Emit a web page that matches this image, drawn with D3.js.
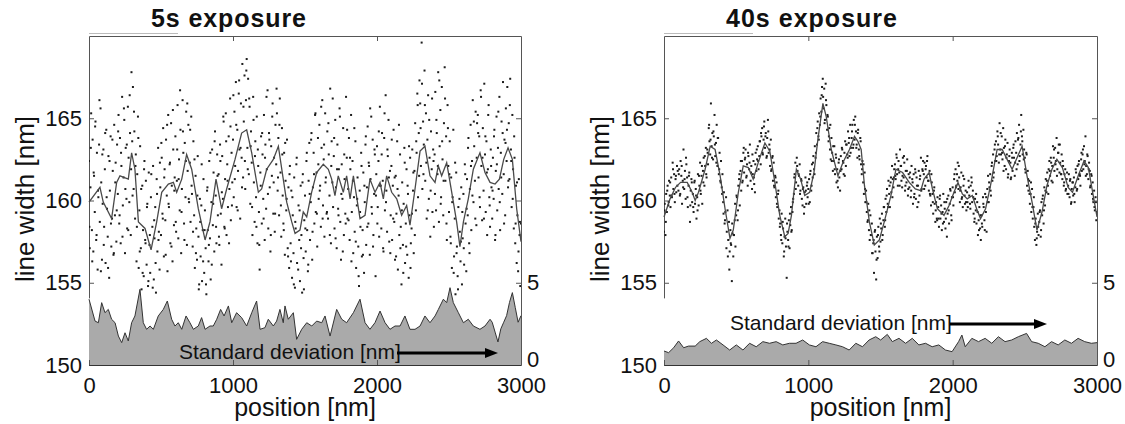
<!DOCTYPE html>
<html>
<head>
<meta charset="utf-8">
<script src="https://cdn.jsdelivr.net/npm/d3@7"></script>
<style>
body { margin: 0; background: #fff; }
text { font-family: "Liberation Sans", Arial, sans-serif; }
</style>
</head>
<body>
<svg id="chart" width="1125" height="424"></svg>
<script>
const W = 1125, H = 424;

const yTicks = [150, 155, 160, 165];
const xTicks = [0, 1000, 2000, 3000];
const stdTicks = [0, 5];
const dotStep = 5;     // nm between samples of the first pass
const dotStep2 = 10;   // second pass, offset by half a step
const dotOffset2 = 2.5;

// ---- 5s exposure ----
const leftDots = [
162.4,157.1,160.8,165.3,158.2,163.7,156.9,161.5,159.3,164.8,157.6,162.9,155.8,160.2,163.4,158.7,165.6,161.1,156.4,159.8,
163.1,158.4,161.9,156.2,164.3,159.5,157.8,162.7,155.3,160.6,163.9,157.2,158.9,161.8,156.7,164.6,159.1,162.3,157.5,163.4,
160.4,165.2,158.6,163.8,157.4,162.1,166.3,159.7,161.4,164.9,156.8,163.2,160.1,158.3,165.7,162.6,159.9,164.1,157.9,167.8,
163.6,166.9,160.7,164.2,158.9,162.8,156.3,161.6,165.1,155.9,159.4,163.3,157.1,154.6,160.9,158.2,155.4,162.4,157.6,161.2,
156.1,159.8,154.8,161.7,157.3,155.6,160.2,153.9,158.4,162.1,155.2,157.7,159.6,154.4,161.3,156.9,163.2,158.1,155.8,160.8,
157.9,162.6,159.2,164.4,156.6,161.9,158.8,163.7,160.3,155.7,165.2,159.6,162.2,157.4,164.7,160.9,156.3,163.1,158.5,161.4,
163.9,158.1,161.2,165.8,157.7,162.5,159.4,164.3,156.8,160.7,166.1,162.9,158.6,163.5,160.2,165.4,157.3,161.8,164.6,159.9,
162.3,158.7,165.1,160.4,157.2,163.6,159.1,155.9,161.5,158.3,156.4,162.7,157.8,154.9,160.1,156.6,159.7,155.1,158.2,161.3,
155.6,159.4,157.1,154.3,160.6,158.2,156.3,162.4,157.7,155.2,159.9,163.1,158.5,161.7,156.9,164.2,160.3,157.4,162.8,159.1,
161.6,157.3,163.4,159.2,156.1,162.7,160.1,164.8,158.4,161.3,165.3,157.9,162.2,159.6,163.9,160.7,166.2,158.8,162.9,161.1,
163.7,160.2,165.4,162.1,167.2,159.6,164.3,161.8,166.5,163.1,158.9,165.9,162.6,168.3,161.4,164.8,167.6,160.7,166.1,168.6,
163.2,167.4,161.6,165.7,159.8,164.2,162.3,157.9,166.3,161.1,158.7,163.6,160.2,165.1,157.4,162.1,159.3,155.8,161.7,163.9,
158.6,162.8,160.1,165.2,157.6,163.4,159.5,161.9,166.7,158.3,164.1,160.8,156.9,163.3,161.5,165.9,159.2,162.6,158.1,164.6,
162.2,165.3,160.6,163.8,159.1,166.2,161.7,157.8,164.4,160.3,158.6,162.9,156.7,161.2,159.4,163.7,157.1,160.8,155.9,162.1,
157.4,160.6,155.3,159.1,156.8,161.4,154.7,158.3,162.2,156.2,153.9,159.7,157.6,155.1,160.9,157.9,154.4,161.6,156.5,158.8,
160.3,156.9,162.4,158.2,155.7,161.2,163.5,157.6,159.9,164.1,156.4,160.8,162.9,158.6,165.2,159.3,161.7,157.2,163.8,160.1,
164.6,160.9,158.4,163.2,166.1,159.7,162.5,157.8,165.3,161.4,159.2,164.2,158.9,162.8,160.3,166.8,157.4,163.6,161.1,159.6,
162.7,158.3,164.9,160.8,157.1,163.4,159.5,161.9,165.6,158.7,156.4,162.2,160.1,164.4,157.9,161.3,159.2,166.3,162.6,158.9,
160.7,163.8,157.6,161.9,165.2,159.3,162.4,156.8,160.2,158.1,163.6,155.9,159.7,161.4,157.2,154.8,160.6,158.4,162.9,156.6,
158.2,161.7,155.6,159.9,163.4,157.3,160.8,164.5,158.6,162.1,156.7,161.3,165.1,159.2,163.7,157.9,160.4,162.8,155.4,161.6,
163.3,159.6,162.4,157.8,165.7,160.9,158.3,164.1,161.2,156.9,163.8,159.4,166.4,160.6,158.1,162.7,164.9,157.5,161.8,159.1,
162.1,157.6,160.9,164.3,158.7,156.4,161.5,159.2,163.6,155.8,160.3,157.9,162.8,158.4,154.9,161.1,157.3,159.8,163.2,156.2,
158.6,161.9,156.7,160.4,155.3,159.1,162.6,157.4,158.3,163.1,160.6,156.8,161.8,164.7,159.4,162.9,166.5,160.2,164.1,167.3,
165.9,162.1,169.6,160.7,164.8,163.4,167.9,161.2,165.3,158.9,163.7,166.4,160.1,162.6,157.8,164.2,161.9,159.3,163.1,158.4,
162.8,166.6,159.4,164.1,161.6,167.8,158.7,163.3,165.5,160.2,166.9,162.5,159.1,164.7,168.1,161.2,163.9,157.6,165.8,162.1,
159.3,163.6,157.8,161.4,155.9,160.2,164.3,156.6,158.9,154.3,161.7,157.2,155.4,159.6,153.8,158.1,156.3,160.8,154.9,157.7,
160.4,156.1,162.2,158.6,155.7,161.3,159.1,163.8,157.4,160.7,164.6,158.2,162.4,166.1,159.9,163.3,161.2,165.4,158.5,164.7,
165.2,161.4,163.9,159.6,166.7,162.1,158.8,164.4,160.6,167.1,162.8,159.3,163.6,157.9,161.9,165.8,160.2,158.4,163.1,160.8,
158.9,162.6,160.1,164.3,157.6,161.8,165.1,159.4,163.2,160.7,166.3,158.2,162.9,164.8,160.4,167.2,161.6,163.7,159.1,165.6,
162.4,166.9,160.8,164.7,161.3,167.4,163.1,159.6,165.2,161.9,158.3,162.6,157.4,160.9,156.2,159.1,155.7,161.3,157.9,154.8,
158.6
];
const leftDots2 = [
158.4,163.2,156.3,161.7,164.5,157.9,160.6,166.1,155.7,162.8,
157.3,164.1,160.2,155.9,162.4,158.6,163.7,156.8,161.1,159.4,
164.2,159.1,162.9,157.8,165.6,160.7,163.4,158.2,166.4,161.9,
160.3,165.4,162.1,158.4,163.8,156.9,160.7,155.6,161.9,157.4,
159.6,155.1,157.9,161.6,154.7,158.8,156.2,160.4,157.6,162.3,
163.5,158.9,161.4,156.7,164.6,159.8,162.3,157.2,165.5,160.6,
158.7,163.1,161.3,166.7,159.3,164.2,157.6,162.4,165.9,160.1,
164.3,160.9,158.1,162.5,156.8,160.3,154.6,158.7,162.2,156.3,
158.2,154.9,160.8,157.3,162.9,156.1,159.8,163.6,158.4,161.5,
157.8,162.4,160.5,165.1,158.3,163.6,161.2,157.4,164.5,159.7,
166.4,161.3,164.6,159.4,167.3,163.2,160.8,165.7,162.4,167.9,
161.9,166.2,163.3,159.6,164.9,162.7,158.4,163.1,157.3,160.9,
164.1,158.9,162.6,166.3,160.4,163.7,157.9,165.1,161.1,159.2,
166.8,161.4,164.6,159.7,162.8,158.2,163.5,160.1,156.6,161.6,
156.3,160.2,154.9,158.7,162.6,155.8,159.4,157.1,161.1,154.6,
158.3,162.9,156.1,160.4,163.7,158.1,161.6,165.3,159.2,162.2,
160.6,165.7,158.9,163.4,161.1,159.3,164.7,157.9,162.1,166.2,
163.8,157.7,161.9,159.1,165.1,160.4,156.9,162.8,158.6,164.3,
158.8,162.6,156.3,161.2,164.4,157.5,160.1,155.4,159.3,162.1,
156.7,160.9,163.9,158.4,162.3,165.6,159.6,157.2,163.1,160.3,
158.6,164.2,160.9,162.8,157.1,165.3,159.9,163.1,161.4,156.8,
163.7,158.9,161.4,156.6,160.7,164.6,157.1,159.4,155.6,162.3,
157.2,160.9,163.3,155.9,159.2,161.7,157.9,163.6,165.8,161.5,
164.4,167.1,161.6,165.8,162.3,159.4,164.9,160.6,166.2,162.4,
160.4,164.9,162.1,167.3,159.8,163.6,161.2,166.2,158.6,164.4,
161.6,157.4,159.9,155.6,162.3,156.8,154.6,160.1,157.5,159.3,
157.1,161.6,159.5,163.2,156.8,162.1,160.3,164.8,158.9,162.6,
164.1,160.2,166.3,162.6,158.9,163.9,161.7,165.2,159.7,162.1,
160.6,163.9,157.9,162.2,165.4,159.9,161.4,164.1,158.6,163.5,
164.3,161.2,165.8,162.4,160.1,163.9,158.6,161.1,156.9,158.7
];
const leftLineX = [0,76,99,157,192,215,273,296,319,343,389,431,470,505,551,586,609,644,678,713,759,806,840,882,921,956,1014,1060,1095,1130,1176,1199,1234,1280,1315,1349,1373,1408,1431,1465,1488,1512,1546,1581,1627,1662,1685,1708,1731,1766,1789,1813,1836,1882,1917,1951,1986,2021,2044,2067,2102,2137,2171,2206,2229,2264,2299,2333,2368,2403,2426,2449,2484,2519,2553,2576,2600,2634,2669,2715,2750,2785,2820,2850,2880,2910,2940,2970,3000];
const leftLineY = [159.9,160.8,159.9,158.9,161.1,161.5,161.3,162.9,161.9,158.7,158.3,157.0,158.7,160.5,161.0,161.1,160.5,161.3,162.8,161.9,159.5,157.6,158.7,161.3,159.5,160.7,162.5,164.1,164.3,162.9,160.5,160.7,161.9,162.5,163.3,161.3,159.9,158.7,158.0,158.2,159.3,159.0,160.5,161.7,162.2,161.9,161.3,160.3,161.5,160.5,161.5,160.1,161.5,158.9,159.1,161.3,160.5,161.1,160.1,161.5,160.5,160.1,159.1,159.7,158.5,160.7,163.0,163.3,161.5,161.1,162.1,161.5,162.3,160.5,158.7,157.2,158.7,160.1,161.9,162.9,161.7,161.1,161.0,161.3,162.5,163.2,162.5,159.5,157.5];
const leftStdX = [0,42,65,88,111,134,157,181,204,227,250,273,296,319,354,377,400,424,447,481,516,544,574,597,620,644,674,701,725,759,782,806,840,863,887,914,938,968,991,1025,1060,1095,1130,1164,1188,1222,1245,1280,1303,1326,1349,1361,1384,1419,1442,1477,1512,1547,1581,1616,1639,1674,1720,1755,1789,1836,1882,1917,1951,1986,2021,2056,2090,2125,2160,2194,2229,2264,2299,2333,2368,2403,2426,2461,2484,2507,2530,2565,2600,2634,2669,2715,2750,2785,2800,2820,2840,2860,2880,2900,2920,2940,2960,2980,3000];
const leftStdY = [4.0,2.67,2.57,3.79,3.18,3.38,2.78,2.57,1.76,1.36,1.96,1.46,2.57,2.98,4.6,2.57,2.17,2.37,2.17,2.98,3.38,3.89,2.78,2.37,2.57,2.17,2.98,2.57,2.17,2.37,2.88,2.17,2.37,2.37,2.78,3.38,2.98,3.59,2.57,3.18,2.88,2.37,3.18,3.89,2.17,2.27,2.78,2.37,2.67,3.38,2.57,3.59,2.78,3.18,1.56,2.17,2.57,2.37,2.67,2.57,2.98,1.76,3.38,2.78,2.57,3.18,4.0,2.57,2.17,2.57,3.28,2.57,2.17,2.37,2.37,2.98,2.17,2.17,2.37,2.98,2.57,2.98,3.38,4.0,3.79,4.7,3.79,3.18,2.57,2.78,2.37,2.17,2.37,2.78,2.6,2.0,1.4,2.2,2.6,3.0,3.8,4.4,3.5,2.6,3.0];

// ---- 40s exposure ----
const rightDots = [
158.1,159.8,157.9,160.4,159.3,160.9,159.7,161.2,160.3,159.6,161.4,160.2,162.3,160.7,161.6,159.9,161.3,160.5,162.1,161.8,
160.6,161.9,160.3,162.4,161.5,159.8,161.2,163.1,160.7,161.8,160.1,162.2,161.4,159.6,160.9,161.7,158.7,160.6,161.3,159.9,
160.4,159.3,161.1,159.8,160.7,158.9,160.2,161.6,159.7,160.9,162.3,160.4,161.5,159.8,161.8,162.6,160.9,162.1,163.2,161.4,
163.1,162.2,164.4,163.6,162.8,165.9,163.3,164.1,162.5,163.9,165.2,162.7,163.5,164.6,162.1,163.8,161.6,162.9,161.2,162.4,
160.8,161.6,159.9,160.5,158.6,159.3,160.2,158.1,159.4,157.6,158.7,156.9,158.2,157.3,155.1,158.0,156.6,157.9,158.8,157.2,
159.1,160.2,158.8,160.9,161.3,159.7,161.8,160.6,162.4,161.2,162.9,161.7,162.5,163.1,161.4,162.2,160.9,162.7,161.9,163.4,
161.2,162.1,160.7,161.6,162.4,161.0,160.5,162.9,161.8,162.5,163.3,161.9,162.7,163.6,162.2,163.9,164.4,162.8,163.7,164.8,
163.2,164.1,162.6,163.8,164.9,162.9,163.4,162.1,163.7,161.9,162.6,161.2,162.3,160.8,161.5,160.2,161.1,159.6,160.4,158.9,
159.4,158.6,157.9,159.2,157.4,158.3,156.6,157.8,158.9,157.2,155.3,158.1,157.6,158.8,157.1,158.5,159.6,158.2,159.3,160.1,
160.4,161.6,162.3,161.1,162.6,161.8,160.9,161.5,162.2,160.6,161.3,160.1,159.7,160.8,159.2,160.5,161.4,159.8,160.9,160.2,
160.7,161.3,159.9,161.8,160.6,162.2,161.4,162.7,161.9,163.3,162.6,164.1,163.4,164.8,163.9,165.3,164.6,166.2,165.4,166.9,
167.4,165.6,166.8,164.9,167.1,165.8,164.3,165.1,163.6,164.4,163.1,162.5,163.8,162.9,161.8,162.4,163.3,161.6,162.8,161.1,
161.9,160.8,162.3,161.4,160.6,162.7,161.9,163.1,162.4,161.6,162.9,163.6,162.1,163.4,162.8,164.2,163.5,162.7,164.6,163.2,
163.8,164.6,163.2,164.9,163.7,165.1,164.2,163.4,162.6,164.3,163.1,162.5,163.8,162.2,161.6,162.4,161.1,160.4,161.7,159.9,
160.6,159.3,158.7,159.8,158.2,157.6,159.1,157.9,158.6,156.8,157.4,155.6,158.1,156.9,155.2,157.8,156.5,158.4,157.2,158.9,
157.5,158.3,159.2,157.9,158.8,159.6,158.4,160.1,159.3,160.7,159.8,161.2,160.4,159.6,161.1,160.5,162.1,161.3,160.8,161.9,
162.2,161.3,162.8,161.6,160.9,162.4,161.7,163.1,162.1,161.2,160.8,162.6,161.4,162.3,160.6,161.8,161.1,162.5,160.3,161.6,
160.8,161.7,160.2,162.1,161.3,159.8,161.6,160.4,161.9,160.1,161.4,159.6,160.9,161.8,160.3,161.5,162.6,160.7,161.9,162.4,
161.6,162.3,160.9,162.1,161.4,162.7,161.2,160.6,161.8,160.3,159.7,161.1,160.4,159.2,160.6,159.8,158.7,159.9,158.9,160.2,
159.6,158.4,160.1,158.9,159.7,158.2,159.3,160.4,158.7,159.5,158.3,159.9,157.8,159.2,160.3,158.6,159.8,160.6,159.1,160.2,
160.8,159.7,161.3,160.5,161.9,160.9,161.6,162.3,160.7,161.4,159.9,160.8,161.7,160.2,159.6,160.9,161.3,159.8,160.6,159.4,
160.5,159.6,161.2,160.3,159.8,160.9,161.4,159.9,160.6,159.2,158.7,160.1,159.4,158.6,159.9,157.9,158.8,159.6,158.3,157.6,
159.1,158.4,160.2,159.6,158.8,160.4,159.3,158.1,160.7,161.5,159.9,160.8,161.6,160.3,162.1,161.2,162.8,161.7,163.1,162.4,
163.6,162.7,164.2,163.4,162.3,164.7,163.1,162.8,163.9,162.5,164.4,163.2,162.1,163.7,161.9,162.8,163.5,161.6,162.4,163.1,
162.3,161.4,162.9,161.8,163.2,162.6,161.5,163.6,162.9,164.1,162.2,163.8,164.6,162.7,163.4,165.2,163.9,162.8,164.3,163.1,
162.6,161.7,162.9,160.9,161.8,160.6,161.2,159.8,160.4,159.3,160.7,158.9,159.6,158.4,157.6,158.9,157.3,158.1,159.2,157.9,
158.7,159.4,157.8,159.9,159.1,160.3,158.6,160.8,159.7,161.3,160.5,161.7,160.9,161.9,162.4,161.5,162.6,161.2,162.1,163.3,
162.6,161.8,163.2,162.4,163.8,161.9,162.9,163.4,161.7,162.3,161.6,162.8,161.3,162.1,160.9,161.6,161.9,160.7,161.3,160.4,
160.9,161.6,160.2,161.3,159.8,160.7,161.1,160.3,161.4,159.9,160.8,161.7,160.6,162.1,161.3,162.4,161.6,160.9,162.5,161.8,
162.8,161.9,163.3,162.4,163.9,162.1,161.6,162.7,161.3,162.3,161.8,160.9,161.6,160.4,161.1,159.9,160.6,159.4,160.2,158.8,
159.3
];
const rightDots2 = [
159.4,158.7,160.6,159.9,161.1,160.3,161.9,160.4,161.5,160.9,
161.6,160.4,162.1,160.8,161.3,162.6,160.2,161.5,159.7,161.1,
159.6,161.2,160.3,159.4,161.5,160.6,162.1,161.1,162.7,161.6,
162.9,164.6,163.7,162.6,164.2,163.4,162.3,163.8,161.9,161.1,
160.4,159.2,158.8,157.1,156.6,155.8,157.4,158.6,157.9,159.8,
160.3,159.4,161.6,162.4,161.1,163.2,162.6,161.5,162.9,162.3,
161.7,162.8,161.4,162.2,163.1,162.4,163.6,164.1,162.9,164.5,
163.9,162.7,164.2,163.1,161.8,162.7,160.9,161.4,159.8,160.6,
158.4,157.6,158.7,156.9,157.7,158.6,157.2,159.2,158.1,159.9,
161.4,160.7,162.1,161.6,160.4,161.2,160.7,159.6,160.6,161.1,
159.8,161.6,160.9,162.3,161.6,162.9,164.4,163.7,165.1,166.4,
166.3,164.7,166.1,165.2,163.9,164.6,162.4,163.3,161.9,162.6,
161.2,162.5,161.8,163.2,162.3,161.5,163.4,162.6,163.8,162.9,
164.2,163.4,164.6,163.2,164.1,162.7,163.6,161.9,162.2,160.7,
159.9,158.8,159.4,157.9,156.8,157.6,158.2,156.4,157.9,156.9,
158.6,157.6,159.6,158.8,160.3,159.6,160.9,161.4,160.2,161.4,
161.5,162.6,161.9,160.9,162.1,161.5,162.7,160.9,161.8,160.7,
161.4,160.6,161.1,160.2,161.7,160.9,159.9,161.3,160.6,161.8,
160.7,161.9,162.4,161.2,160.4,161.6,159.9,160.8,159.4,158.8,
158.9,160.3,159.2,158.6,159.9,158.9,160.1,159.4,160.7,158.8,
160.2,161.6,160.8,161.2,162.1,160.6,160.1,161.5,160.3,159.9,
159.9,160.8,159.5,161.1,160.2,158.9,160.4,159.3,158.2,159.1,
158.6,159.8,158.2,160.2,159.9,161.1,160.6,162.3,161.4,163.4,
162.4,163.9,162.8,164.1,162.9,161.8,163.3,162.6,161.4,162.7,
161.3,162.6,163.4,162.3,161.9,163.7,162.4,164.2,163.6,162.5,
161.9,162.8,161.3,160.4,161.1,159.6,160.2,158.6,157.7,158.4,
159.3,158.2,160.1,159.4,160.6,161.2,160.4,161.8,162.3,161.1,
163.1,162.2,161.5,162.9,163.4,161.6,162.4,161.1,160.6,161.7,
160.4,161.2,159.9,161.1,160.4,161.9,160.7,162.2,161.5,162.9,
163.1,162.2,161.5,162.8,161.9,160.8,161.5,160.1,159.6,159.9
];
const rightLineX = [0,42,80,115,161,195,216,239,285,320,354,389,423,457,480,515,549,584,618,653,699,733,768,802,837,860,883,917,947,975,1009,1039,1066,1101,1124,1159,1205,1239,1285,1320,1343,1366,1389,1423,1457,1492,1526,1572,1607,1653,1699,1741,1779,1802,1837,1860,1894,1940,1975,2009,2037,2067,2101,2136,2166,2193,2228,2262,2308,2343,2377,2412,2446,2481,2515,2550,2584,2619,2653,2688,2722,2760,2800,2830,2870,2910,2940,2970,3000];
const rightLineY = [159.0,160.1,160.8,161.1,161.1,160.5,160.0,160.5,161.9,163.3,163.1,161.5,159.5,157.7,158.2,160.5,162.1,162.0,161.3,162.3,163.5,163.0,161.1,159.1,157.8,158.0,159.1,161.9,161.3,160.3,160.5,161.7,163.7,165.9,165.1,163.1,161.5,162.3,163.1,163.9,163.6,163.1,160.9,158.7,157.3,157.6,158.7,160.3,161.9,161.7,161.1,160.7,160.6,161.3,161.7,160.7,159.5,159.1,159.7,160.5,161.1,160.4,160.1,160.3,159.5,158.9,159.5,160.9,163.1,163.1,162.5,161.9,162.6,163.3,161.5,159.9,158.2,159.3,160.9,161.9,162.5,162.0,160.8,160.5,161.5,162.4,162.0,160.5,159.0];
const rightStdX = [0,32,67,101,136,170,216,248,294,329,363,409,455,501,547,593,639,685,731,777,823,869,915,961,1007,1053,1099,1145,1191,1237,1283,1329,1375,1421,1467,1501,1547,1582,1628,1674,1720,1766,1812,1858,1904,1950,1996,2041,2064,2087,2133,2179,2225,2271,2317,2363,2409,2455,2512,2547,2593,2639,2685,2731,2777,2823,2869,2915,2961,3000];
const rightStdY = [0.85,0.75,1.05,1.46,1.05,1.15,1.15,1.42,1.62,1.32,1.52,1.22,0.91,1.22,0.91,1.32,1.11,1.42,1.32,1.42,1.22,1.32,1.32,1.52,1.22,1.11,1.42,1.32,1.22,1.11,0.91,1.32,1.11,1.52,1.72,1.52,1.86,1.42,1.62,1.32,1.62,1.22,1.32,1.11,1.22,0.91,0.81,1.42,1.82,1.11,1.62,1.42,1.62,1.32,1.72,1.42,1.52,1.72,1.92,1.42,1.32,1.11,1.42,1.22,1.52,1.32,1.62,1.42,1.32,1.36];

const panels = [
  { id: "a", title: "5s exposure", titleLen: 155, x0: 89, x1: 521,
    dots: leftDots, dots2: leftDots2, lineX: leftLineX, lineY: leftLineY, stdX: leftStdX, stdY: leftStdY,
    note: [179, 359], arrow: [397, 498, 353], streak: [89, 178] },
  { id: "b", title: "40s exposure", titleLen: 171, x0: 664, x1: 1097,
    dots: rightDots, dots2: rightDots2, lineX: rightLineX, lineY: rightLineY, stdX: rightStdX, stdY: rightStdY,
    note: [730, 330], arrow: [950, 1047, 324], streak: [664, 753] }
];

const plotTop = 36, plotBottom = 365;
const svg = d3.select("#chart");
svg.append("rect").attr("width", W).attr("height", H).attr("fill", "#fff");

function styleAxis(g) {
    g.select(".domain").attr("stroke", "#555").attr("stroke-width", 1);
    g.selectAll(".tick line").attr("stroke", "#555");
    g.selectAll(".tick text").attr("fill", "#111").style("font-size", "22px")
        .style("font-family", "'Liberation Sans', Arial, sans-serif");
}

function drawPanel(p) {
    const x = d3.scaleLinear().domain([0, 3000]).range([p.x0, p.x1]);
    const y = d3.scaleLinear().domain([150, 170]).range([plotBottom, plotTop]);
    // std axis shares the pixel grid: 5 nm std = 5 nm width
    const s = d3.scaleLinear().domain([0, 20]).range([plotBottom, plotTop]);
    const g = svg.append("g");

    g.append("clipPath").attr("id", "clip-" + p.id)
        .append("rect")
        .attr("x", p.x0).attr("y", plotTop)
        .attr("width", p.x1 - p.x0).attr("height", plotBottom - plotTop);

    // faint streak above the frame
    g.append("line")
        .attr("x1", p.streak[0]).attr("x2", p.streak[1])
        .attr("y1", 33.5).attr("y2", 33.5)
        .attr("stroke", "#bbb").attr("stroke-width", 1);

    // left / top frame
    g.append("g").attr("transform", `translate(${p.x0},0)`)
        .call(d3.axisLeft(y).tickValues(yTicks).tickSizeInner(-5).tickSizeOuter(0).tickPadding(7))
        .call(styleAxis);
    g.append("g").attr("transform", `translate(0,${plotTop})`)
        .call(d3.axisTop(x).tickValues([1000, 2000]).tickSizeInner(-5).tickSizeOuter(0).tickFormat(""))
        .call(styleAxis);

    // scatter of measured widths (two sampling passes)
    const pts = p.dots.map((v, i) => [i * dotStep, v])
        .concat(p.dots2.map((v, i) => [dotOffset2 + i * dotStep2, v]));
    g.append("g").attr("clip-path", `url(#clip-${p.id})`)
        .selectAll("rect")
        .data(pts)
        .join("rect")
        .attr("x", d => x(d[0]) - 1)
        .attr("y", d => y(d[1]) - 1)
        .attr("width", 2)
        .attr("height", 2)
        .attr("fill", "#1c1c1c");

    // running mean
    g.append("path")
        .datum(d3.zip(p.lineX, p.lineY))
        .attr("d", d3.line().x(d => x(d[0])).y(d => y(d[1])))
        .attr("fill", "none")
        .attr("stroke", "#4a4a4a")
        .attr("stroke-width", 1.3);

    // inset for standard deviation, white background
    g.append("rect")
        .attr("x", p.x0 - 1.5).attr("y", s(4.05))
        .attr("width", p.x1 - p.x0 + 1.5).attr("height", plotBottom - s(4.05))
        .attr("fill", "#fff");

    const sd = d3.zip(p.stdX, p.stdY);
    g.append("path")
        .datum(sd)
        .attr("d", d3.area().x(d => x(d[0])).y0(s(0)).y1(d => s(d[1])))
        .attr("fill", "#aaaaaa");
    g.append("path")
        .datum(sd)
        .attr("d", d3.line().x(d => x(d[0])).y(d => s(d[1])))
        .attr("fill", "none")
        .attr("stroke", "#333")
        .attr("stroke-width", 1);

    // right frame with ticks, then std labels
    g.append("g").attr("transform", `translate(${p.x1},0)`)
        .call(d3.axisRight(y).tickValues([155, 160, 165]).tickSizeInner(-5).tickSizeOuter(0).tickFormat(""))
        .call(styleAxis);
    g.append("g").attr("transform", `translate(${p.x1},0)`)
        .call(d3.axisRight(s).tickValues(stdTicks).tickSize(0).tickPadding(6))
        .call(styleAxis)
        .call(a => a.select(".domain").remove())
        .call(a => a.selectAll(".tick text").attr("dy", d => d === 0 ? "0.05em" : "0.32em"));

    // bottom axis
    g.append("g").attr("transform", `translate(0,${plotBottom})`)
        .call(d3.axisBottom(x).tickValues(xTicks).tickSizeInner(-5).tickSizeOuter(0).tickPadding(12).tickFormat(d3.format("d")))
        .call(styleAxis)
        .call(a => a.select(".domain").attr("stroke", "#333"));

    // annotation
    g.append("text")
        .attr("x", p.note[0]).attr("y", p.note[1])
        .style("font-size", "21px").attr("fill", "#111")
        .text("Standard deviation [nm]");
    g.append("line")
        .attr("x1", p.arrow[0]).attr("x2", p.arrow[1] - 10)
        .attr("y1", p.arrow[2]).attr("y2", p.arrow[2])
        .attr("stroke", "#000").attr("stroke-width", 3);
    g.append("path")
        .attr("d", `M${p.arrow[1]},${p.arrow[2]} L${p.arrow[1] - 13},${p.arrow[2] - 5} L${p.arrow[1] - 13},${p.arrow[2] + 5} Z`)
        .attr("fill", "#000");

    // titles and axis labels
    g.append("text")
        .attr("x", p.x0 + 62).attr("y", 27)
        .attr("textLength", p.titleLen).attr("lengthAdjust", "spacing")
        .style("font-size", "25px").style("font-weight", "bold").attr("fill", "#111")
        .text(p.title);
    g.append("text")
        .attr("transform", `translate(${p.x0 - 64},${199}) rotate(-90)`)
        .attr("text-anchor", "middle").attr("dy", "0.35em")
        .style("font-size", "26px").attr("fill", "#111")
        .text("line width [nm]");
    g.append("text")
        .attr("x", (p.x0 + p.x1) / 2).attr("y", 416)
        .attr("text-anchor", "middle")
        .style("font-size", "25px").attr("fill", "#111")
        .text("position [nm]");
}

panels.forEach(drawPanel);
</script>
</body>
</html>
